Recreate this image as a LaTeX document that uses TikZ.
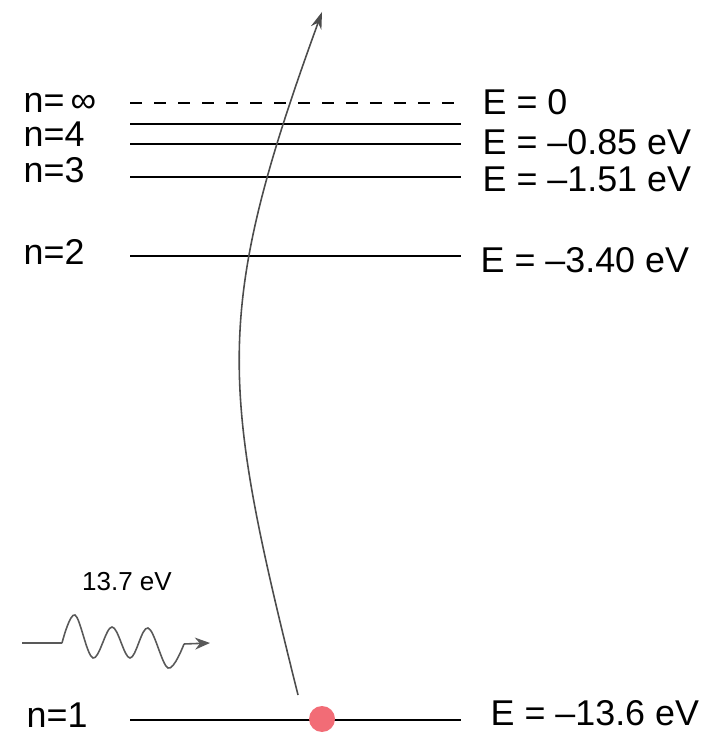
\documentclass[tikz,border=0pt]{standalone}
\usepackage{fontspec}
\setmainfont{Liberation Sans}
\usetikzlibrary{arrows.meta,positioning}
\definecolor{electron}{RGB}{242,108,118}
\tikzset{
  >=Stealth,
  level/.style={line width=0.65pt},
  lab/.style={anchor=base west, inner sep=0pt, font=\fontsize{10.2}{12}\selectfont},
}

\begin{document}
\begin{tikzpicture}[
  jump/.style={->, black!70, line width=0.45pt, >={Stealth[length=1.7mm,width=1.1mm]}},
  photon/.style={black!65, line width=0.45pt}
]
\useasboundingbox (0,0) rectangle (7.12,7.34);

% energy levels
\coordinate (linfa) at (1.30,6.31);
\coordinate (linfb) at (4.60,6.31);
\draw[level, dash pattern=on 0.12cm off 0.12cm] (linfa) -- (linfb);
\foreach \name/\y in {l5/6.10, l4/5.90, l3/5.57, l2/4.78, l1/0.14} {
  \coordinate (\name a) at (1.30,\y);
  \coordinate (\name b) at (4.61,\y);
  \draw[level] (\name a) -- (\name b);
}

\node[lab] (ninf) at (0.23,6.21) {n=\,∞};
\node[lab] (n4) at (0.23,5.87) {n=4};
\node[lab] (n3) at (0.23,5.51) {n=3};
\node[lab] (n2) at (0.23,4.69) {n=2};
\node[lab] (n1) at (0.26,0.07) {n=1};

\node[lab] (einf) at (4.82,6.19) {E = 0};
\node[lab] (e4) at (4.82,5.79) {E = –0.85 eV};
\node[lab] (e3) at (4.82,5.42) {E = –1.51 eV};
\node[lab] (e2) at (4.80,4.61) {E = –3.40 eV};
\node[lab] (e1) at (4.90,0.09) {E = –13.6 eV};

% electron and its jump
\node[circle, fill=electron, minimum size=0.26cm, inner sep=0pt] (el) at (3.22,0.15) {};
\coordinate (start) at (2.98,0.39);
\coordinate (top) at (3.22,7.22);
\draw[jump] (start) to[out=104,in=250,looseness=1.2] (top);

% incoming photon
\coordinate (ph0) at (0.22,0.91);
\coordinate (ph1) at (2.10,0.91);
\draw[photon] (ph0) -- (0.62,0.91)
  plot[smooth, tension=0.6] coordinates {(0.62,0.91) (0.75,1.19) (0.93,0.76) (1.12,1.07) (1.30,0.76) (1.48,1.06) (1.68,0.66) (1.84,0.90)};
\draw[photon, ->, >={Stealth[length=1.5mm,width=1.2mm]}] (1.84,0.90) -- (ph1);
\node[font=\fontsize{7.4}{9}\selectfont, inner sep=0pt] (hv) at (1.27,1.52) {13.7 eV};

\end{tikzpicture}
\end{document}
